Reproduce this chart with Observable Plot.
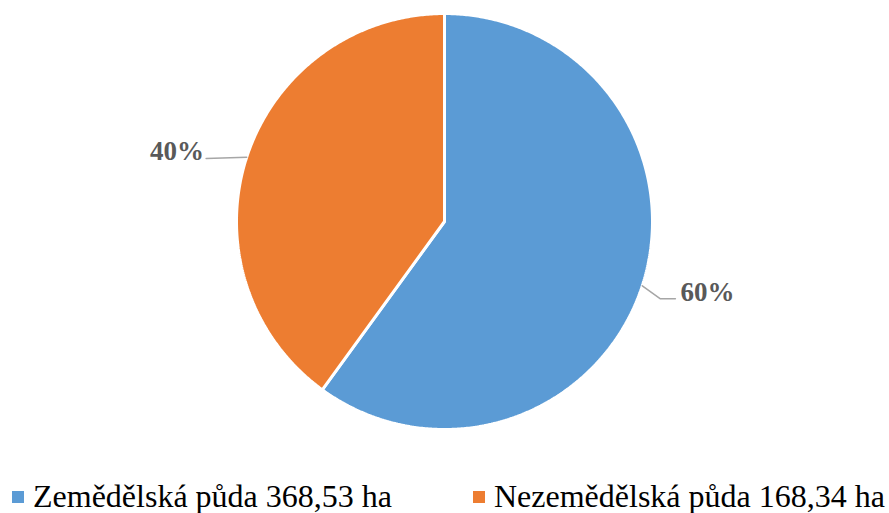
<!DOCTYPE html>
<html>
<head>
<meta charset="utf-8">
<script src="https://cdn.jsdelivr.net/npm/d3@7"></script>
<script src="https://cdn.jsdelivr.net/npm/@observablehq/plot@0.6"></script>
<style>
  body { margin: 0; background: #fff; }
  #wrap { position: relative; width: 889px; height: 513px; overflow: hidden; }
  .leg { position: absolute; top: 475px; height: 43px; font-family: "Liberation Serif", "Times New Roman", serif; font-size: 32px; color: #000; white-space: nowrap; line-height: 43px; }
  .sw { position: absolute; width: 12px; height: 12px; top: 16px; }
</style>
</head>
<body>
<div id="wrap"></div>
<script>
const categories = ["Zemědělská půda", "Nezemědělská půda"];
const shares = [60, 40];            // percent shown in the pie
const areas = ["368,53", "168,34"]; // ha, legend text
const pctLabels = ["60%", "40%"];
const colors = ["#5B9BD5", "#ED7D31"];

const total = d3.sum(shares);
// angles clockwise from 12 o'clock
let acc = 0;
const slices = categories.map((c, i) => {
  const a0 = acc / total * 2 * Math.PI;
  acc += shares[i];
  const a1 = acc / total * 2 * Math.PI;
  return {c, i, a0, a1, mid: (a0 + a1) / 2};
});

function slicePoints(s) {
  const pts = [{x: 0, y: 0}];
  const n = Math.max(2, Math.ceil((s.a1 - s.a0) / (Math.PI / 360)));
  for (let k = 0; k <= n; k++) {
    const a = s.a0 + (s.a1 - s.a0) * k / n;
    pts.push({x: Math.sin(a), y: Math.cos(a)});
  }
  pts.push({x: 0, y: 0});
  return pts;
}

// leader lines: start at slice mid-angle on circle
function leader(s) {
  const x0 = Math.sin(s.mid), y0 = Math.cos(s.mid);
  if (x0 >= 0) {
    return [{x: x0, y: y0}, {x: x0 + 0.087, y: y0 - 0.0625}, {x: x0 + 0.159, y: y0 - 0.0625}];
  } else {
    return [{x: x0, y: y0}, {x: x0 - 0.195, y: y0 - 0.006}];
  }
}
const leaders = slices.map(leader);
const labelPts = slices.map((s, i) => {
  const L = leaders[i];
  const end = L[L.length - 1];
  const right = end.x >= 0;
  return {x: end.x, y: end.y, text: pctLabels[i], anchor: right ? "start" : "end", dx: right ? 5 : -2};
});

const marks = [];
slices.forEach((s, i) => {
  marks.push(Plot.line(slicePoints(s), {x: "x", y: "y", fill: colors[i], stroke: "#fff", strokeWidth: 3, strokeLinejoin: "miter", curve: "linear"}));
});
leaders.forEach(L => marks.push(Plot.line(L, {x: "x", y: "y", stroke: "#A6A6A6", strokeWidth: 1.5})));
labelPts.forEach(p => marks.push(Plot.text([p], {
  x: "x", y: "y", text: "text", textAnchor: p.anchor, dx: p.dx, lineAnchor: "bottom", dy: 2,
  fontSize: 27, fontWeight: "bold", fill: "#595959", fontFamily: "Liberation Serif, Times New Roman, serif"
})));

const chart = Plot.plot({
  width: 889,
  height: 470,
  marginLeft: 236,
  marginRight: 237,
  marginTop: 13,
  marginBottom: 41,
  x: {domain: [-1, 1], axis: null},
  y: {domain: [-1, 1], axis: null},
  marks
});
const wrap = document.getElementById("wrap");
wrap.appendChild(chart);

// legend
const legX = [12, 473];
categories.forEach((c, i) => {
  const d = document.createElement("div");
  d.className = "leg";
  d.style.left = legX[i] + "px";
  d.innerHTML = `<span class="sw" style="left:0;background:${colors[i]}"></span><span style="margin-left:21px">${c} ${areas[i]} ha</span>`;
  wrap.appendChild(d);
});
</script>
</body>
</html>
